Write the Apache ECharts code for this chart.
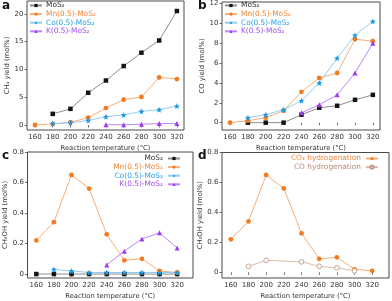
<!DOCTYPE html>
<html>
<head>
<meta charset="utf-8">
<script src="https://cdn.jsdelivr.net/npm/echarts@6/dist/echarts.min.js"></script>
<style>
html,body{margin:0;padding:0;background:#fff;}
#c{width:392px;height:301px;}
</style>
</head>
<body>
<div id="c"></div>
<script>
// ---- data ----
var temps = [160, 180, 200, 220, 240, 260, 280, 300, 320];
var xTicks = [160, 180, 200, 220, 240, 260, 280, 300, 320];

// panel a: CH4 yield (mol%)
var ch4_MoS2 = [null, 2.0, 2.9, 5.8, 8.0, 10.6, 13.0, 15.2, 20.5];
var ch4_Mn   = [0.0, 0.2, 0.5, 1.3, 3.05, 4.55, 5.05, 8.55, 8.25];
var ch4_Co   = [null, 0.25, 0.4, 0.8, 1.5, 1.8, 2.45, 2.75, 3.4];
var ch4_K    = [null, null, null, null, 0.05, 0.05, 0.15, 0.25, 0.25];
var aTicks = [0, 5, 10, 15, 20];

// panel b: CO yield (mol%)
var co_MoS2 = [null, 0.0, 0.0, 0.0, 0.8, 1.5, 1.7, 2.3, 2.8];
var co_Mn   = [0.0, 0.2, 0.5, 1.2, 3.1, 4.5, 5.0, 8.4, 8.2];
var co_Co   = [null, 0.5, 0.8, 1.3, 2.2, 4.0, 6.5, 8.8, 10.2];
var co_K    = [null, null, null, null, 1.0, 1.8, 2.8, 5.0, 8.0];
var bTicks = [0, 2, 4, 6, 8, 10, 12];

// panel c: CH3OH yield (mol%)
var meoh_MoS2 = [0, 0, 0, 0, 0, 0, 0, 0, 0];
var meoh_Mn   = [0.22, 0.34, 0.65, 0.56, 0.26, 0.09, 0.10, 0.02, 0.01];
var meoh_Co   = [null, 0.03, 0.02, 0.01, 0.01, 0.01, 0.01, 0.01, 0.01];
var meoh_K    = [null, null, null, null, 0.06, 0.15, 0.23, 0.27, 0.17];
var cTicks = [0, 0.2, 0.4, 0.6, 0.8];

// panel d: CH3OH yield, CO2 vs CO hydrogenation
var d_CO2 = [0.22, 0.34, 0.65, 0.56, 0.26, 0.09, 0.10, 0.02, 0.01];
var d_CO  = [null, 0.04, 0.08, null, 0.07, 0.04, 0.03, 0.01, null];

// ---- helpers ----
function pairs(vals){ return temps.map(function(t,i){ return [t, vals[i]]; }); }
var FONT = 'DejaVu Sans';
var C = {
  mos2: {m:'#141414', l:'#8e8e8e', t:'#333333'},
  mn:   {m:'#f47a1f', l:'#f6ae78', t:'#f0883a'},
  co:   {m:'#1e9be6', l:'#93cdf2', t:'#2a9fe6'},
  k:    {m:'#9a3cf0', l:'#bf86f5', t:'#a14ff0'},
  coh:  {m:'#c49a86', l:'#d8bcae', t:'#b88a74'}
};
var STAR = 'path://M0,-10 L2.6,-3.6 L9.5,-3.1 L4.2,1.4 L5.9,8.1 L0,4.4 L-5.9,8.1 L-4.2,1.4 L-9.5,-3.1 L-2.6,-3.6Z';
var labels = {
  a0:'MoS₂', a1:'Mn(0.5)-MoS₂', a2:'Co(0.5)-MoS₂', a3:'K(0.5)-MoS₂',
  b0:'MoS₂', b1:'Mn(0.5)-MoS₂', b2:'Co(0.5)-MoS₂', b3:'K(0.5)-MoS₂',
  c0:'MoS₂', c1:'Mn(0.5)-MoS₂', c2:'Co(0.5)-MoS₂', c3:'K(0.5)-MoS₂',
  d0:'CO₂ hydrogenation', d1:'CO hydrogenation'
};

function ser(name, idx, vals, col, symbol, size, hollow){
  return {
    name: name, type:'line', xAxisIndex: idx, yAxisIndex: idx,
    data: pairs(vals), connectNulls: true,
    symbol: symbol, symbolSize: size,
    lineStyle: {color: col.l, width: 1},
    itemStyle: hollow ? {color:'#ffffff', borderColor: col.m, borderWidth: 0.9} : {color: col.m, borderWidth: 0},
    emphasis: {disabled: true},
    animation: false, z: 3
  };
}

var grids = [
  {left: 27, top: 1, width: 157, height: 129},
  {left: 222, top: 1, width: 158, height: 129},
  {left: 27.5, top: 152, width: 165.5, height: 126},
  {left: 222, top: 152.5, width: 167, height: 125.5}
].map(function(g){ return Object.assign({show:true, borderColor:'#4a4a4a', borderWidth:1, backgroundColor:'transparent'}, g); });

var xr = [[151, 328],[151, 328],[150, 338],[150, 339]];
var xAxes = xr.map(function(r, i){
  return {
    type:'value', gridIndex:i, min:r[0], max:r[1],
    name:'Reaction temperature (°C)', nameLocation:'middle', nameGap:14.5,
    nameTextStyle:{fontFamily:FONT, fontSize:6.8, color:'#333'},
    axisLine:{show:false}, splitLine:{show:false},
    axisTick:{show:true, length:2.5, lineStyle:{color:'#4a4a4a', width:0.8}, customValues: xTicks},
    axisLabel:{fontFamily:FONT, fontSize:7, color:'#333', margin:4, customValues: xTicks}
  };
});
var yDefs = [
  {min:-0.9, max:22.3, ticks:aTicks, name:'CH₄ yield (mol%)', fmt:function(v){return String(v);}},
  {min:-0.74, max:12.15, ticks:bTicks, name:'CO yield (mol%)', fmt:function(v){return String(v);}},
  {min:-0.026, max:0.8, ticks:cTicks, name:'CH₃OH yield (mol%)', fmt:function(v){return v===0?'0':v.toFixed(1);}},
  {min:-0.038, max:0.8, ticks:cTicks, name:'CH₃OH yield (mol%)', fmt:function(v){return v===0?'0':v.toFixed(1);}}
];
var yAxes = yDefs.map(function(d, i){
  return {
    type:'value', gridIndex:i, min:d.min, max:d.max,
    name:d.name, nameLocation:'middle', nameGap: (i<2? 14.5 : 17.5), nameRotate:90,
    nameTextStyle:{fontFamily:FONT, fontSize:6.8, color:'#333'},
    axisLine:{show:false}, splitLine:{show:false},
    axisTick:{show:true, length:2.5, lineStyle:{color:'#4a4a4a', width:0.8}, customValues: d.ticks},
    axisLabel:{fontFamily:FONT, fontSize:7, color:'#333', margin:3.5, customValues: d.ticks, formatter: d.fmt}
  };
});

var series = [
  ser('a0',0,ch4_MoS2,C.mos2,'rect',4.5),
  ser('a1',0,ch4_Mn,C.mn,'circle',4.8),
  ser('a2',0,ch4_Co,C.co,STAR,6),
  ser('a3',0,ch4_K,C.k,'triangle',5),
  ser('b0',1,co_MoS2,C.mos2,'rect',4.5),
  ser('b1',1,co_Mn,C.mn,'circle',4.8),
  ser('b2',1,co_Co,C.co,STAR,6),
  ser('b3',1,co_K,C.k,'triangle',5),
  ser('c0',2,meoh_MoS2,C.mos2,'rect',4.5),
  ser('c1',2,meoh_Mn,C.mn,'circle',4.8),
  ser('c2',2,meoh_Co,C.co,STAR,6),
  ser('c3',2,meoh_K,C.k,'triangle',5),
  ser('d0',3,d_CO2,C.mn,'circle',4.8),
  ser('d1',3,d_CO,C.coh,'circle',4.8,true)
];

function leg(prefix, keys, cols, pos, align){
  return Object.assign({
    orient:'vertical', align: align, itemWidth:12, itemHeight:4, itemGap:1.6,
    padding:0, selectedMode:false,
    textStyle:{fontFamily:FONT, fontSize:7.4, padding:[0,0,0,-1]},
    formatter:function(n){ return labels[n]; },
    data: keys.map(function(k, i){ return {name: prefix+k, textStyle:{color: cols[i].t}}; })
  }, pos);
}
var legends = [
  leg('a',[0,1,2,3],[C.mos2,C.mn,C.co,C.k],{left:29, top:2},'left'),
  leg('b',[0,1,2,3],[C.mos2,C.mn,C.co,C.k],{left:224, top:2},'left'),
  leg('c',[0,1,2,3],[C.mos2,C.mn,C.co,C.k],{right:211, top:155},'right'),
  leg('d',[0,1],[C.mn,C.coh],{right:13, top:155},'right')
];

var graphic = [
  {type:'text', left:2, top:0, style:{text:'a', font:'bold 12px "DejaVu Sans"', fill:'#111'}},
  {type:'text', left:198, top:0, style:{text:'b', font:'bold 12px "DejaVu Sans"', fill:'#111'}},
  {type:'text', left:2, top:150, style:{text:'c', font:'bold 12px "DejaVu Sans"', fill:'#111'}},
  {type:'text', left:198, top:150, style:{text:'d', font:'bold 12px "DejaVu Sans"', fill:'#111'}}
];

var chart = echarts.init(document.getElementById('c'), null, {renderer:'canvas'});
chart.setOption({
  animation:false,
  grid: grids, xAxis: xAxes, yAxis: yAxes,
  legend: legends, series: series, graphic: graphic
});
</script>
</body>
</html>
